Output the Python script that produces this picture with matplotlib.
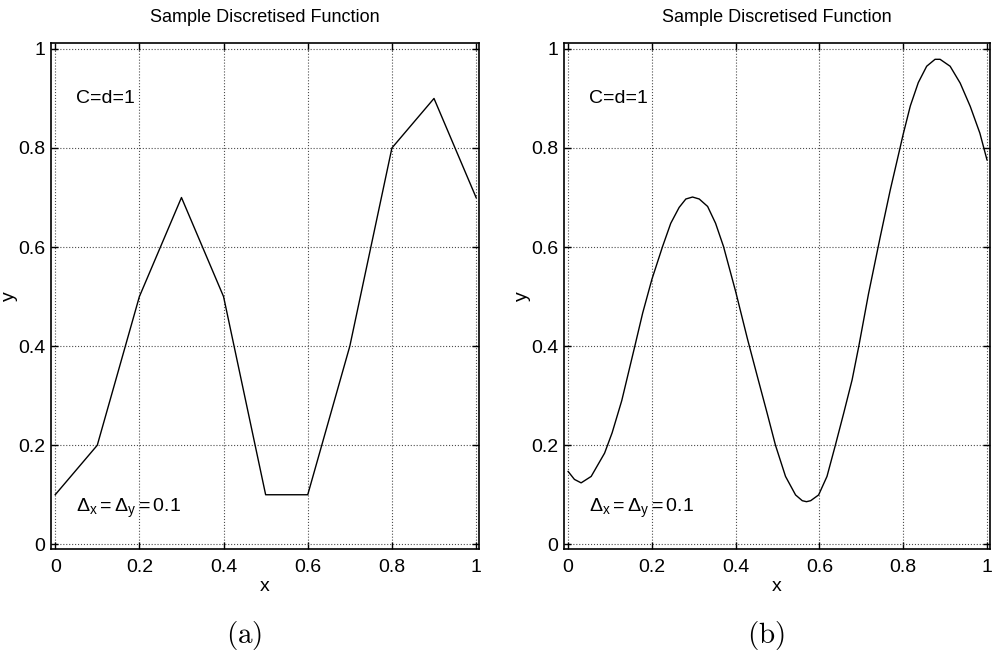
import numpy as np
import matplotlib
matplotlib.use("Agg")
import matplotlib.pyplot as plt

plt.rcParams['font.family'] = ['Liberation Sans', 'DejaVu Sans']
plt.rcParams['mathtext.fontset'] = 'custom'
plt.rcParams['mathtext.rm'] = 'Liberation Sans'
plt.rcParams['mathtext.it'] = 'Liberation Sans'

# (a) sampled values on the 0.1 grid
x_a = [0.0, 0.1, 0.2, 0.3, 0.4, 0.5, 0.6, 0.7, 0.8, 0.9, 1.0]
y_a = [0.1, 0.2, 0.5, 0.7, 0.5, 0.1, 0.1, 0.4, 0.8, 0.9, 0.7]

# (b) smooth curve
x_b = [0.0, 0.015, 0.031, 0.055, 0.087, 0.105, 0.128, 0.1595, 0.178, 0.2,
       0.2254, 0.245, 0.265, 0.281, 0.297, 0.313, 0.333, 0.352, 0.371, 0.4,
       0.428, 0.452, 0.475, 0.495, 0.519, 0.543, 0.559, 0.569, 0.579, 0.598,
       0.618, 0.638, 0.658, 0.678, 0.694, 0.717, 0.745, 0.769, 0.791, 0.8,
       0.817, 0.836, 0.856, 0.876, 0.888, 0.912, 0.936, 0.96, 0.983, 1.0]
y_b = [0.147, 0.131, 0.124, 0.137, 0.184, 0.225, 0.29, 0.401, 0.467, 0.535,
       0.601, 0.648, 0.68, 0.697, 0.701, 0.697, 0.682, 0.648, 0.601, 0.51,
       0.415, 0.338, 0.265, 0.2, 0.137, 0.0996, 0.088, 0.086, 0.088, 0.0996,
       0.137, 0.2, 0.265, 0.332, 0.40, 0.505, 0.62, 0.715, 0.795, 0.828,
       0.885, 0.932, 0.965, 0.979, 0.979, 0.965, 0.931, 0.884, 0.830, 0.776]

ticks = [0, 0.2, 0.4, 0.6, 0.8, 1]
tick_labels = ['0', '0.2', '0.4', '0.6', '0.8', '1']

fig = plt.figure(figsize=(9.92, 6.62), dpi=100)
ax1 = fig.add_axes([0.0514, 0.1707, 0.4315, 0.7644])
ax2 = fig.add_axes([0.5685, 0.1707, 0.4294, 0.7644])

for ax, xs, ys, tag, cx in [(ax1, x_a, y_a, '(a)', 0.246), (ax2, x_b, y_b, '(b)', 0.772)]:
    ax.plot(xs, ys, color='black', lw=1.0)
    ax.set_xlim(-0.01, 1.007)
    ax.set_ylim(-0.0095, 1.012)
    ax.set_xticks(ticks)
    ax.set_xticklabels(tick_labels)
    ax.set_yticks(ticks)
    ax.set_yticklabels(tick_labels)
    ax.tick_params(direction='in', length=5, width=1, top=True, right=True,
                   labelsize=14)
    ax.tick_params(axis='x', pad=7)
    ax.tick_params(axis='y', pad=4)
    ax.grid(True, linestyle=':', color='0.3', lw=0.8)
    for s in ax.spines.values():
        s.set_linewidth(1.2)
    ax.set_title('Sample Discretised Function', fontsize=13, pad=15)
    ax.set_xlabel('x', fontsize=14, labelpad=2)
    ax.set_ylabel('y', fontsize=14)
    ax.yaxis.set_label_coords(-0.078, 0.5)
    ax.text(0.05, 0.9, 'C=d=1', fontsize=14, va='center')
    ax.text(0.05, 0.072, r'$\Delta_\mathrm{x}{=}\Delta_\mathrm{y}{=}0.1$', fontsize=14, va='center')
    fig.text(cx, 0.04, r'$\mathrm{' + tag + '}$', fontsize=21, ha='center',
             va='center', math_fontfamily='cm')

fig.savefig('out.png', dpi=100)
